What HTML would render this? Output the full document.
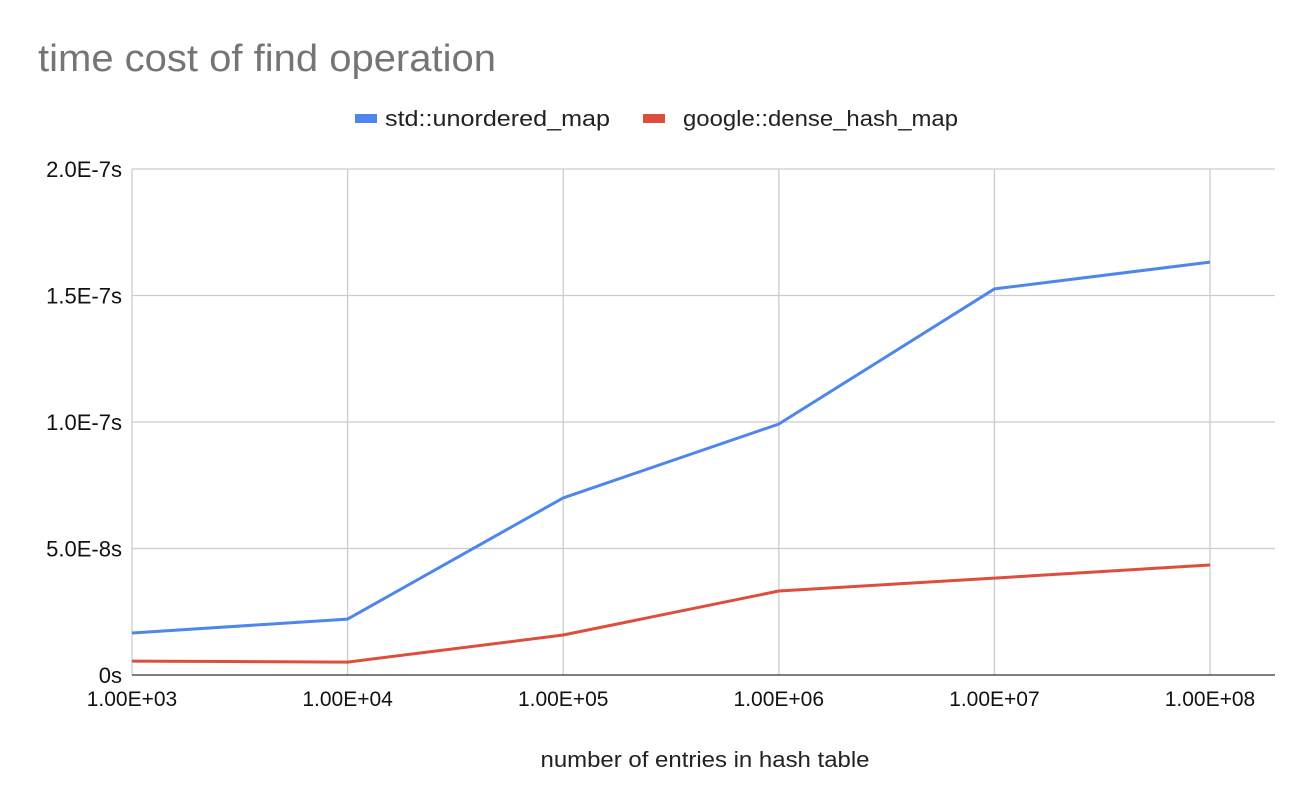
<!DOCTYPE html>
<html><head><meta charset="utf-8"><style>
html,body{margin:0;padding:0;background:#fff;}
svg{display:block;font-family:"Liberation Sans",Arial,sans-serif;}
</style></head><body>
<svg id="chart" width="1314" height="808" viewBox="0 0 1314 808">
<text x="38" y="71" font-size="38" fill="#757575" textLength="458" lengthAdjust="spacingAndGlyphs">time cost of find operation</text>
<g>
<g>
<rect x="355" y="114" width="22" height="9" fill="#4f86ec"></rect>
<text x="385" y="126" font-size="22" fill="#222" textLength="225" lengthAdjust="spacingAndGlyphs">std::unordered_map</text></g>
<g>
<rect x="643" y="114" width="22" height="9" fill="#dd4e3d"></rect>
<text x="683" y="126" font-size="22" fill="#222" textLength="275" lengthAdjust="spacingAndGlyphs">google::dense_hash_map</text></g>
</g>
<g id="grid"></g>
<g id="series"></g>
<g id="axes"></g>
<text x="705" y="767" font-size="22" text-anchor="middle" fill="#222" textLength="329" lengthAdjust="spacingAndGlyphs">number of entries in hash table</text>
</svg>
<script>
const categories = ["1.00E+03","1.00E+04","1.00E+05","1.00E+06","1.00E+07","1.00E+08"];
const unorderedValues = [1.66e-8, 2.21e-8, 7.0e-8, 9.92e-8, 1.526e-7, 1.632e-7];
const denseValues = [5.5e-9, 5.1e-9, 1.58e-8, 3.32e-8, 3.83e-8, 4.35e-8];
const yTicks = [0, 5e-8, 1e-7, 1.5e-7, 2e-7];
const yTickLabels = ["0s","5.0E-8s","1.0E-7s","1.5E-7s","2.0E-7s"];

const NS="http://www.w3.org/2000/svg";
const L=132,R=1275,T=169,B=675,X0=132,X1=1210,YMAX=2e-7;
const xs=i=>X0+i*(X1-X0)/(categories.length-1);
const ys=v=>B-v/YMAX*(B-T);
function mk(tag,attrs,parent){const e=document.createElementNS(NS,tag);for(const k in attrs)e.setAttribute(k,attrs[k]);parent.appendChild(e);return e;}
const grid=document.getElementById('grid'),axes=document.getElementById('axes'),series=document.getElementById('series');
yTicks.forEach((v,i)=>{
  if(v>0){const l=mk('line',{x1:L,x2:R,y1:ys(v),y2:ys(v),stroke:'#ccc','stroke-width':1.3},grid);
  
  }
  const t=mk('text',{x:122,y:ys(v)+8,'font-size':22,'text-anchor':'end',fill:'#111'},axes);
  t.textContent=yTickLabels[i];
  
  
});
categories.forEach((c,i)=>{
  const l=mk('line',{x1:xs(i),x2:xs(i),y1:T,y2:B,stroke:'#ccc','stroke-width':1.3},grid);
  
  
  const t=mk('text',{x:xs(i),y:706,'font-size':21,'text-anchor':'middle',fill:'#111'},axes);
  t.textContent=c;
  
  
});
const base=mk('line',{x1:L,x2:R,y1:B,y2:B,stroke:'#333','stroke-width':1.3},axes);


function drawLine(vals,color,name){
  const p=mk('polyline',{points:vals.map((v,i)=>xs(i)+','+ys(v)).join(' '),fill:'none',stroke:color,'stroke-width':3,'stroke-linejoin':'round'},series);
  
  
}
drawLine(unorderedValues,'#4f86ec','std-unordered-map-line');
drawLine(denseValues,'#dd4e3d','google-dense-hash-map-line');
</script>
</body></html>
